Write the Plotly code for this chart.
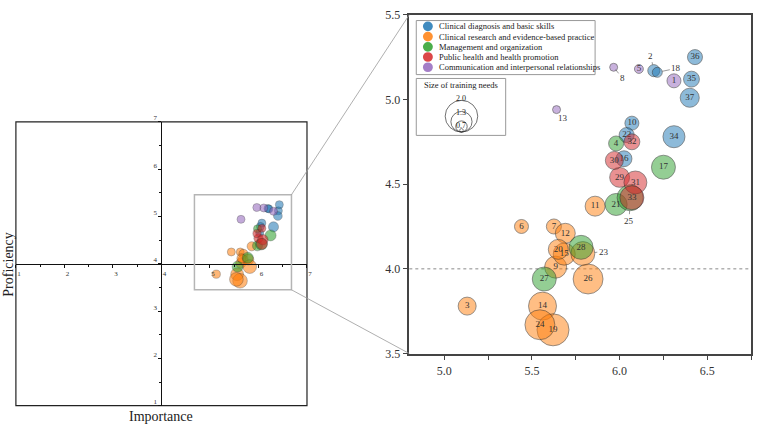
import plotly.graph_objects as go

# ---------------- data ----------------
categories = [
    "Clinical diagnosis and basic skills",
    "Clinical research and evidence-based practice",
    "Management and organization",
    "Public health and health promotion",
    "Communication and interpersonal relationships",
]
cat_colors = ["#1f77b4", "#ff7f0e", "#2ca02c", "#d62728", "#9467bd"]

item_ids = list(range(1, 38))
# category index per item (0..4)
item_cat = [4, 0, 1, 2, 4, 1, 1, 4, 1, 0,
            1, 1, 4, 1, 1, 0, 2, 0, 1, 1,
            2, 0, 1, 1, 2, 1, 2, 2, 3, 3,
            3, 3, 3, 0, 0, 0, 0]
importance = [6.31, 6.195, 5.13, 5.98, 6.11, 5.44, 5.625, 5.966, 5.635, 6.07,
              5.86, 5.69, 5.64, 5.56, 5.684, 6.025, 6.25, 6.215, 5.62, 5.65,
              5.98, 6.04, 5.79, 5.545, 6.06, 5.82, 5.57, 5.78, 6.00, 5.97,
              6.09, 6.07, 6.07, 6.31, 6.41, 6.43, 6.40]
proficiency = [5.11, 5.17, 3.78, 4.74, 5.18, 4.25, 4.25, 5.19, 4.01, 4.86,
               4.37, 4.21, 4.94, 3.78, 4.087, 4.65, 4.60, 5.16, 3.64, 4.115,
               4.38, 4.79, 4.09, 3.67, 4.42, 3.94, 3.94, 4.127, 4.54, 4.64,
               4.51, 4.75, 4.42, 4.78, 5.12, 5.25, 5.01]
training_needs = [0.80, 0.69, 1.03, 0.86, 0.51, 0.80, 0.86, 0.34, 1.26, 0.80,
                  1.14, 1.14, 0.29, 1.60, 1.26, 0.91, 1.37, 0.57, 1.83, 1.14,
                  1.26, 0.86, 1.37, 1.71, 1.49, 1.71, 1.37, 1.37, 1.14, 1.03,
                  1.31, 0.91, 1.37, 1.26, 0.91, 0.86, 1.09]
size_legend_values = [2.0, 1.3, 0.7]

# items whose labels sit outside the bubble: (ax, ay) text offset in px
outside_labels = {2: (-3, -15), 18: (19, -4), 8: (9, 11), 13: (6, 8), 23: (21, -2), 25: (-1, 23)}

# ---------------- layout geometry ----------------
W, H = 767, 431
FONT = "Liberation Serif"
def px(x): return x / W
def py(y): return 1 - y / H

L_dom_x = [px(16), px(309)]
L_dom_y = [py(412), py(118)]
R_dom_x = [px(412), px(756)]
R_dom_y = [py(358), py(7)]
L_range = [1, 7]
R_xrange = [4.8, 6.75]
R_yrange = [3.5, 5.5]

def rgba(hexc, a):
    h = hexc.lstrip("#")
    return "rgba(%d,%d,%d,%s)" % (int(h[0:2], 16), int(h[2:4], 16), int(h[4:6], 16), a)

fig = go.Figure()

for ci, cname in enumerate(categories):
    idx = [i for i in range(len(item_ids)) if item_cat[i] == ci]
    xs = [importance[i] for i in idx]
    ys = [proficiency[i] for i in idx]
    ss = [training_needs[i] for i in idx]
    tx = ["" if item_ids[i] in outside_labels else str(item_ids[i]) for i in idx]
    # left overview
    fig.add_trace(go.Scatter(
        x=xs, y=ys, mode="markers", xaxis="x", yaxis="y", showlegend=False,
        marker=dict(size=ss, sizemode="diameter", sizeref=1 / 8.0, sizemin=4,
                    color=rgba(cat_colors[ci], 0.8), line=dict(color="rgba(40,40,40,0.8)", width=0.5)),
        hoverinfo="skip"))
    # right zoom
    fig.add_trace(go.Scatter(
        x=xs, y=ys, mode="markers+text", xaxis="x2", yaxis="y2", name=cname, showlegend=False,
        text=tx, textposition="middle center",
        textfont=dict(family=FONT, size=9, color="#333"),
        marker=dict(size=ss, sizemode="diameter", sizeref=1 / 17.5, sizemin=4,
                    color=rgba(cat_colors[ci], 0.72), line=dict(color="rgba(40,40,40,0.85)", width=0.8))))

shapes = []
annotations = []

# left frame
shapes.append(dict(type="rect", xref="x domain", yref="y domain", x0=0, x1=1, y0=0, y1=1,
                   line=dict(color="#222", width=1.2), layer="below"))
# left zoom rectangle
rx0, rx1, ry0, ry1 = 4.68, 6.68, 3.45, 5.46
shapes.append(dict(type="rect", xref="x", yref="y", x0=rx0, x1=rx1, y0=ry0, y1=ry1,
                   line=dict(color="#b5b5b5", width=1.5)))
def lpx(d): return L_dom_x[0] + (d - L_range[0]) / (L_range[1] - L_range[0]) * (L_dom_x[1] - L_dom_x[0])
def lpy(d): return L_dom_y[0] + (d - L_range[0]) / (L_range[1] - L_range[0]) * (L_dom_y[1] - L_dom_y[0])
shapes.append(dict(type="line", xref="paper", yref="paper", x0=lpx(rx1), y0=lpy(ry1), x1=R_dom_x[0], y1=R_dom_y[1],
                   line=dict(color="#9a9a9a", width=0.8)))
shapes.append(dict(type="line", xref="paper", yref="paper", x0=lpx(rx1), y0=lpy(ry0), x1=R_dom_x[0], y1=R_dom_y[0],
                   line=dict(color="#9a9a9a", width=0.8)))
# dotted reference at proficiency 4.0
shapes.append(dict(type="line", xref="x2 domain", yref="y2", x0=0, x1=1, y0=4.0, y1=4.0,
                   line=dict(color="#8a8a8a", width=1, dash="dot"), layer="below"))

# category legend
shapes.append(dict(type="rect", xref="paper", yref="paper", x0=px(419), x1=px(599), y0=py(69), y1=py(13),
                   line=dict(color="#999", width=1), fillcolor="white"))
for k, cname in enumerate(categories):
    cy = 19 + k * 10.6
    r = 5
    shapes.append(dict(type="circle", xref="paper", yref="paper",
                       x0=px(430.7 - r), x1=px(430.7 + r), y0=py(cy + r), y1=py(cy - r),
                       fillcolor=rgba(cat_colors[k], 0.85), line=dict(width=0)))
    annotations.append(dict(xref="paper", yref="paper", x=px(440), y=py(cy), text=cname, showarrow=False,
                            xanchor="left", yanchor="middle", font=dict(family=FONT, size=8.5, color="#222")))

# size legend
shapes.append(dict(type="rect", xref="paper", yref="paper", x0=px(419), x1=px(509), y0=py(132), y1=py(73),
                   line=dict(color="#999", width=1), fillcolor="white"))
annotations.append(dict(xref="paper", yref="paper", x=px(464), y=py(79.5), text="Size of training needs",
                        showarrow=False, xanchor="center", yanchor="middle",
                        font=dict(family=FONT, size=8.5, color="#222")))
cxl, bottom = 464.5, 128.5
label_y = [93.3, 108, 121.5]
for v, ly in zip(size_legend_values, label_y):
    r = 8.2 * v
    shapes.append(dict(type="circle", xref="paper", yref="paper",
                       x0=px(cxl - r), x1=px(cxl + r), y0=py(bottom), y1=py(bottom - 2 * r),
                       line=dict(color="#333", width=0.7)))
    annotations.append(dict(xref="paper", yref="paper", x=px(cxl), y=py(ly), text="%.1f" % v,
                            showarrow=False, xanchor="center", yanchor="middle",
                            font=dict(family=FONT, size=8, color="#222")))
shapes.append(dict(type="circle", xref="paper", yref="paper",
                   x0=px(cxl - 1.8), x1=px(cxl + 1.8), y0=py(bottom), y1=py(bottom - 3.6),
                   line=dict(color="#333", width=0.6)))

# outside labels with leader lines
for iid, (ax, ay) in outside_labels.items():
    i = item_ids.index(iid)
    annotations.append(dict(xref="x2", yref="y2", x=importance[i], y=proficiency[i], text=str(iid),
                            showarrow=True, arrowhead=0, arrowwidth=0.6, arrowcolor="#555",
                            ax=ax, ay=ay, standoff=training_needs[i] * 8.75,
                            font=dict(family=FONT, size=9, color="#333")))

# axis titles of left plot
annotations.append(dict(xref="paper", yref="paper", x=px(9), y=py(265), text="Proficiency", textangle=-90,
                        showarrow=False, xanchor="center", yanchor="middle",
                        font=dict(family=FONT, size=14, color="#222")))
annotations.append(dict(xref="paper", yref="paper", x=px(162), y=py(423), text="Importance",
                        showarrow=False, xanchor="center", yanchor="middle",
                        font=dict(family=FONT, size=14, color="#222")))

small_tick = dict(family=FONT, size=7, color="#333")
fig.update_layout(
    width=W, height=H, margin=dict(l=0, r=0, t=0, b=0),
    paper_bgcolor="white", plot_bgcolor="rgba(0,0,0,0)",
    showlegend=False, shapes=shapes, annotations=annotations,
    xaxis=dict(domain=L_dom_x, range=L_range, anchor="free", position=lpy(4.0),
               showline=True, linecolor="#111", linewidth=1.2, showgrid=False, zeroline=False,
               ticks="outside", ticklen=3, tickcolor="#111", dtick=1, tick0=1,
               minor=dict(dtick=0.5, ticklen=2, ticks="outside", tickcolor="#111"),
               tickfont=small_tick, ticklabelshift=3, fixedrange=True),
    yaxis=dict(domain=L_dom_y, range=L_range, anchor="free", position=lpx(4.0),
               showline=True, linecolor="#111", linewidth=1.2, showgrid=False, zeroline=False,
               ticks="outside", ticklen=3, tickcolor="#111", dtick=1, tick0=1,
               minor=dict(dtick=0.5, ticklen=2, ticks="outside", tickcolor="#111"),
               tickfont=small_tick, ticklabelshift=-4, fixedrange=True),
    xaxis2=dict(domain=R_dom_x, range=R_xrange, anchor="y2",
                showline=True, mirror=True, linecolor="#444", linewidth=1.5, showgrid=False, zeroline=False,
                ticks="outside", ticklen=5, tickcolor="#444", dtick=0.5, tick0=5.0, tickformat=".1f",
                minor=dict(dtick=0.25, ticklen=5, ticks="outside", tickcolor="#444"),
                tickfont=dict(family=FONT, size=12, color="#333")),
    yaxis2=dict(domain=R_dom_y, range=R_yrange, anchor="x2",
                showline=True, mirror=True, linecolor="#444", linewidth=1.5, showgrid=False, zeroline=False,
                ticks="outside", ticklen=5, tickcolor="#444", dtick=0.5, tick0=3.5, tickformat=".1f",
                tickfont=dict(family=FONT, size=12, color="#333")),
)

fig.write_html("out.html")
